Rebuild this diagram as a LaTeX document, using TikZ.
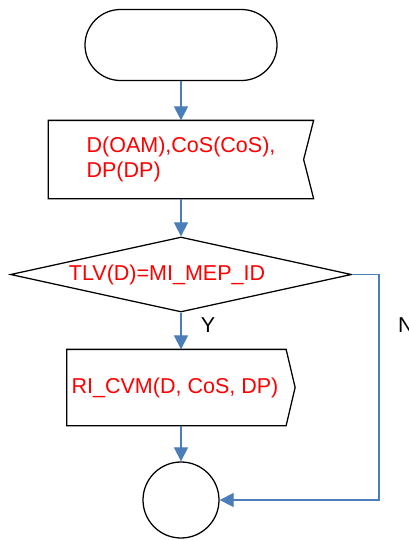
\documentclass[tikz,border=0pt]{standalone}
\usepackage{fontspec}
\setmainfont{Liberation Sans}
\usetikzlibrary{arrows.meta,shapes.geometric,shapes.misc}
\definecolor{flowblue}{RGB}{74,126,187}

\begin{document}
\begin{tikzpicture}[font=\fontsize{15.3}{17.7}\selectfont]
    \useasboundingbox (0,0) rectangle (10.225,-13.5);
    \begin{scope}[every node/.style={line width=0.9pt,inner sep=0pt,text=red}]
      \node[draw,rounded rectangle,minimum width=4.8cm,minimum height=1.775cm] (start) at (4.525,-1.125) {};
      \node[rectangle,minimum width=6.6cm,minimum height=1.925cm,align=left] (input) at (4.525,-3.9875) {D(OAM),CoS(CoS),\\DP(DP)};
      \node[draw,diamond,minimum width=8.525cm,minimum height=1.875cm,
        label={[xshift=-0.35cm,text=red]center:TLV(D)=MI\_MEP\_ID}] (check) at (4.525,-6.8625) {};
      \node[rectangle,minimum width=5.675cm,minimum height=1.875cm,
        label={[xshift=-0.15cm,text=red]center:RI\_CVM(D, CoS, DP)}] (call) at (4.525,-9.6875) {};
      \node[draw,circle,minimum size=1.9cm] (stop) at (4.525,-12.5) {};
      \node[text=black] (yes) at (5.2,-8.125) {Y};
      \node[text=black] (no) at (10.15,-8.125) {N};
    \end{scope}
    \coordinate (turn) at (9.475,-6.8625);

    % box outlines
    \draw[line width=0.9pt] (input.north west) -- (input.north east) -- ([xshift=-0.25cm]input.east)
      -- (input.south east) -- (input.south west) -- cycle;
    \draw[line width=0.9pt] (call.north west) -- ([xshift=-0.225cm]call.north east) -- (call.east)
      -- ([xshift=-0.225cm]call.south east) -- (call.south west) -- cycle;

    \begin{scope}[>={Triangle[length=0.35cm,width=0.35cm]},
        every edge/.style={draw=flowblue,line width=0.8pt}]
      \path [->] (start) edge (input);
      \path [->] (input) edge (check);
      \path [->] (check) edge (call);
      \path [->] (call) edge (stop);
      \draw [->,flowblue,line width=0.8pt] (check.east) -- (turn) |- (stop.east);
    \end{scope}
\end{tikzpicture}
\end{document}
